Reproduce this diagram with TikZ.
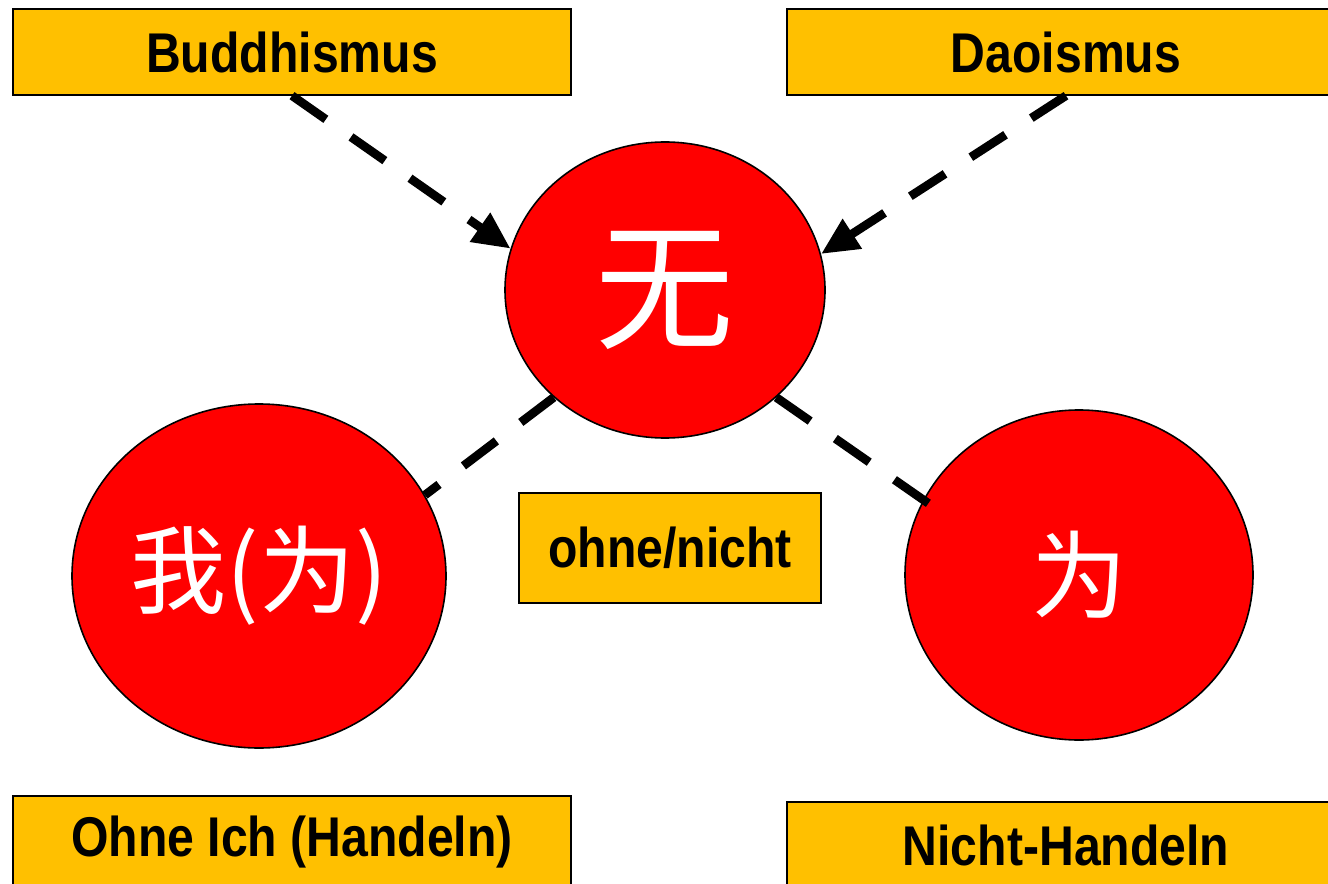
\documentclass[tikz,border=0pt]{standalone}
\usepackage{fontspec}
\setmainfont{Liberation Sans}[FakeStretch=0.86]
\newfontfamily\cjkfont{Noto Sans CJK SC}
\usetikzlibrary{shapes.geometric,arrows.meta}
\definecolor{gold}{HTML}{FFC000}
\definecolor{redfill}{HTML}{FF0000}
\tikzset{
  labelbox/.style={draw=black, line width=1pt, fill=gold, inner sep=0pt,
    font=\fontsize{42}{48}\selectfont\bfseries},
  bigcirc/.style={ellipse, draw=black, line width=1.2pt, fill=redfill, inner sep=0pt,
    text=white},
  dashline/.style={line width=6.5pt, dash pattern=on 31pt off 23pt},
  arrowline/.style={dashline, -{Triangle[length=28pt,width=25pt]}}
}
\begin{document}
\begin{tikzpicture}[x=0.75pt,y=-0.75pt]
\clip (0,0) rectangle (1328,884);
\fill[white] (0,0) rectangle (1328,884);
% boxes
\node[labelbox, minimum width=418.5pt, minimum height=64.5pt] (bud) at (292,52) {Buddhismus};
\node[labelbox, minimum width=418.5pt, minimum height=64.5pt] (dao) at (1066,52) {Daoismus};
\node[labelbox, minimum width=226.5pt, minimum height=82.5pt] (ohne) at (670,548) {ohne/nicht};
\node[labelbox, minimum width=418.5pt, minimum height=69pt] (ich) at (292,842) {Ohne Ich (Handeln)};
\node[labelbox, minimum width=418.5pt, minimum height=64.5pt] (nh) at (1066,845) {Nicht-Handeln};
% circles
\node[bigcirc, minimum width=240pt, minimum height=222pt, font=\cjkfont\fontsize{104}{110}\selectfont] (wu) at (665,290) {\raisebox{-4pt}{无}};
\node[bigcirc, minimum width=280.5pt, minimum height=258pt, font=\cjkfont\fontsize{72}{80}\selectfont] (wo) at (259,576) {我(为)};
\node[bigcirc, minimum width=261pt, minimum height=247.5pt, font=\cjkfont\fontsize{72}{80}\selectfont] (wei) at (1079,575) {为};
% connectors
\draw[arrowline] (bud.south) -- (wu.165);
\draw[arrowline] (dao.south) -- (wu.13);
\draw[dashline] (wu.224) -- (wo.26);
\draw[dashline] (wu.-44) -- ([shift={(6,5)}]wei.154);
\end{tikzpicture}
\end{document}
